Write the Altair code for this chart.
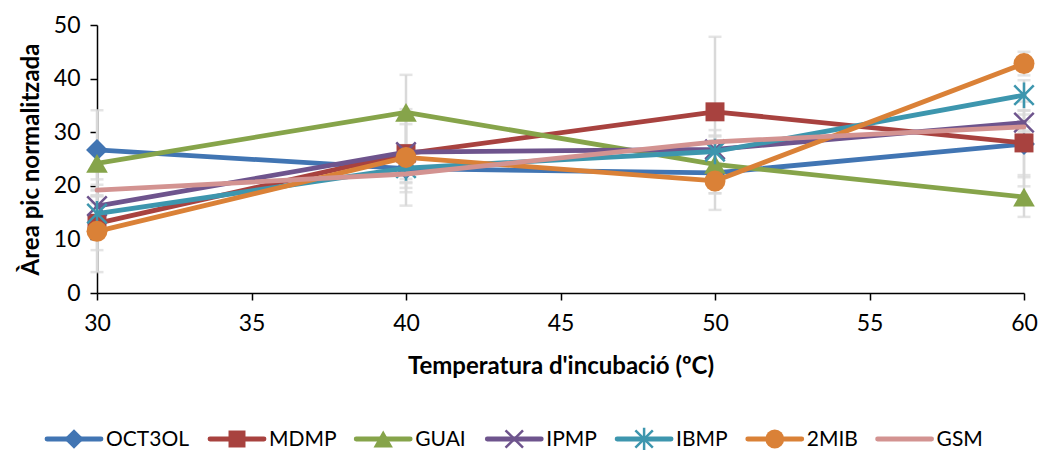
import altair as alt
import pandas as pd

temps = [30, 40, 50, 60]
series = ["OCT3OL", "MDMP", "GUAI", "IPMP", "IBMP", "2MIB", "GSM"]
oct3ol = [26.7, 23.2, 22.4, 27.8]
mdmp = [13.0, 26.0, 33.8, 28.0]
guai = [24.2, 33.7, 24.0, 17.9]
ipmp = [16.2, 26.3, 26.8, 31.8]
ibmp = [14.8, 23.3, 26.4, 36.9]
mib2 = [11.5, 25.3, 20.9, 42.8]
gsm = [19.2, 22.2, 28.2, 31.0]
values = [oct3ol, mdmp, guai, ipmp, ibmp, mib2, gsm]

err_oct3ol = [7.4, 4.4, 3.8, 7.9]
err_mdmp = [5.0, 5.5, 14.0, 6.0]
err_guai = [3.0, 7.0, 5.4, 3.7]
err_ipmp = [2.0, 6.7, 3.6, 1.5]
err_ibmp = [2.0, 2.0, 2.1, 2.8]
err_mib2 = [7.6, 9.0, 5.4, 2.2]
err_gsm = [1.0, 1.5, 1.0, 1.0]
errors = [err_oct3ol, err_mdmp, err_guai, err_ipmp, err_ibmp, err_mib2, err_gsm]

colors = ["#4175B3", "#A8423F", "#86A44A", "#6E548D", "#3D96AE", "#DA8137", "#D39391"]

rows = []
for s, vals, errs in zip(series, values, errors):
    for t, v, e in zip(temps, vals, errs):
        rows.append({"serie": s, "temp": t, "val": v, "lo": v - e, "hi": v + e})
df = pd.DataFrame(rows)

FONT = "Lato"
W, H = 927, 268
x_scale = alt.Scale(domain=[30, 60], nice=False)
y_scale = alt.Scale(domain=[0, 50], nice=False)
x_axis = alt.Axis(values=[30, 35, 40, 45, 50, 55, 60], grid=False, labelFlush=False,
                  labelOverlap=False, tickSize=7, labelPadding=12, titlePadding=19)
y_axis = alt.Axis(values=[0, 10, 20, 30, 40, 50], grid=False, tickSize=7,
                  labelPadding=10, titlePadding=10)
X_TITLE = "Temperatura d'incubació (ºC)"
Y_TITLE = "Àrea pic normalitzada"


def X():
    return alt.X("temp:Q", scale=x_scale, axis=x_axis, title=X_TITLE)


def Y(field):
    return alt.Y(f"{field}:Q", scale=y_scale, axis=y_axis, title=Y_TITLE)


color = alt.Color("serie:N", scale=alt.Scale(domain=series, range=colors), legend=None)
base = alt.Chart(df)

layers = []
ERR_COL = "#D9D9D9"
layers.append(base.mark_rule(color=ERR_COL, strokeWidth=2.5).encode(x=X(), y=Y("lo"), y2="hi:Q"))
layers.append(base.mark_tick(color=ERR_COL, thickness=2.5, size=13, orient="horizontal").encode(x=X(), y=Y("lo")))
layers.append(base.mark_tick(color=ERR_COL, thickness=2.5, size=13, orient="horizontal").encode(x=X(), y=Y("hi")))

markers = {
    "OCT3OL": ("diamond", 480, True),
    "MDMP": ("square", 360, True),
    "GUAI": ("triangle-up", 470, True),
    "IPMP": ("M-1,-1L1,1M-1,1L1,-1", 380, False),
    "IBMP": ("M-1,-1L1,1M-1,1L1,-1M0,-1.3V1.3", 380, False),
    "2MIB": ("circle", 440, True),
}


def marker_mark(chart, s, scale=1.0):
    shp, size, filled = markers[s]
    if filled:
        return chart.mark_point(shape=shp, size=size * scale, filled=True, opacity=1)
    return chart.mark_point(shape=shp, size=size * scale, filled=False, strokeWidth=2.5, opacity=1)


for s in series:
    sub = base.transform_filter(alt.datum.serie == s)
    layers.append(sub.mark_line(strokeWidth=4.8, strokeCap="round", strokeJoin="round")
                  .encode(x=X(), y=Y("val"), color=color))
    if s in markers:
        layers.append(marker_mark(sub, s).encode(x=X(), y=Y("val"), color=color))

main = alt.layer(*layers)

# ---- legend (one row under the x-axis title), laid out from the label widths ----
LEG_FONT = 21
CHAR_EM = {"O": .80, "C": .70, "T": .60, "3": .58, "L": .52, "M": .90, "D": .78, "P": .62,
           "G": .77, "U": .74, "A": .69, "I": .28, "B": .66, "S": .56, "2": .58}
LINE_LEN, TXT_GAP, ENTRY_GAP = 54, 5, 20
LEG_START = -50          # relative to the plot's left edge
LEG_ROW = H + 146        # relative to the plot's top edge

leg_rows = []
cur = LEG_START
for s in series:
    tw = sum(CHAR_EM.get(ch, 0.6) for ch in s) * LEG_FONT
    leg_rows.append({"serie": s, "x0": cur, "x1": cur + LINE_LEN, "xm": cur + LINE_LEN / 2,
                     "xt": cur + LINE_LEN + TXT_GAP})
    cur += LINE_LEN + TXT_GAP + tw + ENTRY_GAP
leg_df = pd.DataFrame(leg_rows)

lx = alt.Scale(domain=[0, W], range=[0, W], nice=False, zero=False)
lbase = alt.Chart(leg_df)
leg_layers = [
    lbase.mark_rule(strokeWidth=4.8, strokeCap="round").encode(
        x=alt.X("x0:Q", scale=lx, axis=None), x2="x1:Q", y=alt.value(LEG_ROW), color=color),
]
for s in series:
    if s in markers:
        leg_layers.append(marker_mark(lbase.transform_filter(alt.datum.serie == s), s, 0.8).encode(
            x=alt.X("xm:Q", scale=lx, axis=None), y=alt.value(LEG_ROW), color=color))
leg_layers.append(
    lbase.mark_text(align="left", baseline="middle", font=FONT, fontSize=LEG_FONT, color="black", dy=1)
    .encode(x=alt.X("xt:Q", scale=lx, axis=None), y=alt.value(LEG_ROW), text="serie:N"))
legend = alt.layer(*leg_layers)

chart = alt.layer(main, legend).resolve_scale(x="independent").properties(
    width=W, height=H,
    padding={"left": 89, "top": 17, "right": 16, "bottom": 157},
    autosize=alt.AutoSizeParams(type="none"),
).configure_view(stroke=None).configure_axis(
    domainColor="black", domainWidth=1.5, tickColor="black", tickWidth=1.5,
    labelColor="black", labelFont=FONT, labelFontSize=23,
    titleColor="black", titleFont=FONT, titleFontSize=24, titleFontWeight="bold",
)

chart.save("out.html", embed_options={"renderer": "svg", "actions": False})
